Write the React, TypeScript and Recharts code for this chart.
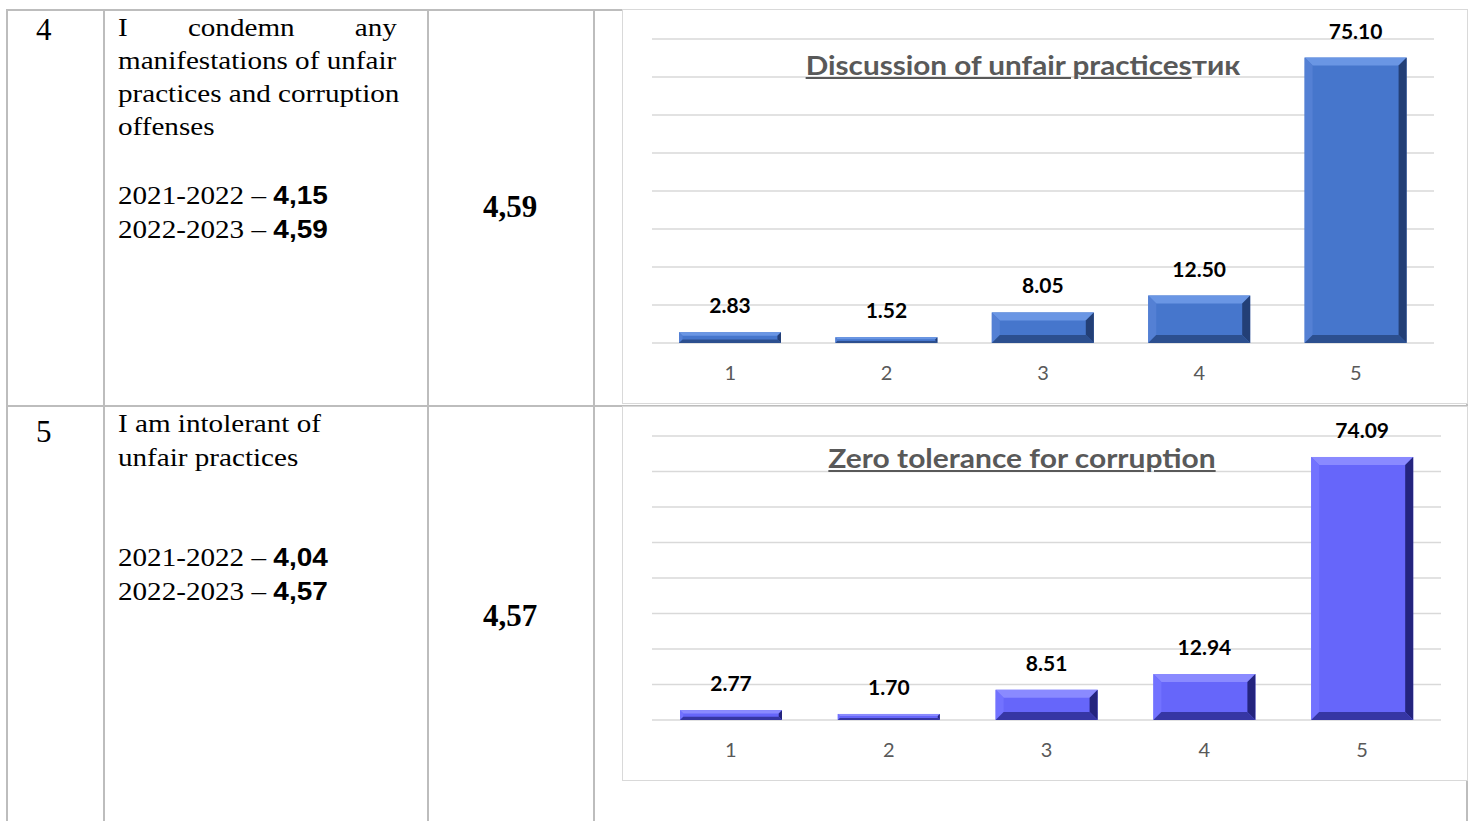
import React from 'react';
import { BarChart, Bar, XAxis, YAxis, CartesianGrid, LabelList } from 'recharts';

// answer options 1..5
const categories = ['1', '2', '3', '4', '5'];
// % of respondents per option
const discussionValues = [2.83, 1.52, 8.05, 12.5, 75.1];
const toleranceValues = [2.77, 1.7, 8.51, 12.94, 74.09];
const yTicks = [0, 10, 20, 30, 40, 50, 60, 70, 80];

const SERIF = '"Liberation Serif", "Times New Roman", serif';
const SANS = '"Liberation Sans", Arial, sans-serif';
const CHART_FONT = 'Lato, "Noto Sans", sans-serif';
const LINE = '#bdbdbd';

type Palette = { base: string; top: string; left: string; right: string; bottom: string };

const bluePalette: Palette = { base: '#4676cc', top: '#6a96e4', left: '#5480d4', right: '#233f76', bottom: '#2c4f8f' };
const violetPalette: Palette = { base: '#6666fa', top: '#8a8aff', left: '#7272ff', right: '#24247e', bottom: '#3636a4' };

function bevelShape(p: Palette) {
  return (props: any) => {
    const { x, y, width: w, height: h } = props;
    if (!w || !h || h <= 0) return <g />;
    const b = Math.min(8, h / 3, w / 2);
    return (
      <g>
        <rect x={x} y={y} width={w} height={h} fill={p.base} />
        <polygon points={`${x},${y} ${x + w},${y} ${x + w - b},${y + b} ${x + b},${y + b}`} fill={p.top} />
        <polygon points={`${x},${y} ${x + b},${y + b} ${x + b},${y + h - b} ${x},${y + h}`} fill={p.left} />
        <polygon points={`${x + w},${y} ${x + w},${y + h} ${x + w - b},${y + h - b} ${x + w - b},${y + b}`} fill={p.right} />
        <polygon points={`${x},${y + h} ${x + w},${y + h} ${x + w - b},${y + h - b} ${x + b},${y + h - b}`} fill={p.bottom} />
      </g>
    );
  };
}

function SurveyChart({ values, palette, width, height, right }: { values: number[]; palette: Palette; width: number; height: number; right: number }) {
  const data = categories.map((c, i) => ({ name: c, value: values[i] }));
  return (
    <BarChart width={width} height={height} data={data} margin={{ top: 29, right, left: 29, bottom: 22 }}>
      <CartesianGrid vertical={false} stroke="#d9d9d9" strokeWidth={1.5} />
      <XAxis dataKey="name" axisLine={false} tickLine={false} height={40} tickMargin={17}
        tick={{ fill: '#595959', fontSize: 20, fontFamily: CHART_FONT }} />
      <YAxis hide domain={[0, 80]} ticks={yTicks} width={0} />
      <Bar dataKey="value" barSize={102} isAnimationActive={false} shape={bevelShape(palette)}>
        <LabelList dataKey="value" position="top" offset={19}
          formatter={(v: any) => Number(v).toFixed(2)}
          style={{ fill: '#000', fontSize: 21, fontWeight: 700, fontFamily: CHART_FONT }} />
      </Bar>
    </BarChart>
  );
}

// the source page is a bit stretched sideways, so the serif text is widened to match
function Txt({ x, y, w, size, children, style, sx = 1.12 }: any) {
  return (
    <div style={{ position: 'absolute', left: x, top: y, width: w, fontFamily: SERIF, fontSize: size, lineHeight: '34px', color: '#000', whiteSpace: 'nowrap', transform: `scaleX(${sx})`, transformOrigin: '0 0', ...style }}>
      {children}
    </div>
  );
}

const B = ({ children }: any) => <b style={{ fontFamily: SANS, fontSize: 25 }}>{children}</b>;

export default function App() {
  return (
    <div style={{ position: 'absolute', left: 0, top: 0, width: 1470, height: 821, overflow: 'hidden', background: '#fff' }}>
      {/* table grid */}
      {[6, 103, 427, 593, 1466].map((x) => (
        <div key={x} style={{ position: 'absolute', left: x, top: 9, width: 2, height: 812, background: LINE }} />
      ))}
      {[9, 405].map((y) => (
        <div key={y} style={{ position: 'absolute', left: 6, top: y, width: 1462, height: 2, background: LINE }} />
      ))}

      {/* row 4 */}
      <Txt x={36} y={13} size={31} sx={1}>4</Txt>
      <Txt x={118} y={11} w={249} size={26} style={{ textAlignLast: 'justify', textAlign: 'justify' }}>I condemn any</Txt>
      <Txt x={118} y={44} size={26}>manifestations of unfair</Txt>
      <Txt x={118} y={77} size={26}>practices and corruption</Txt>
      <Txt x={118} y={110} size={26}>offenses</Txt>
      <Txt x={118} y={178} size={26}>2021-2022 – <B>4,15</B></Txt>
      <Txt x={118} y={212} size={26}>2022-2023 – <B>4,59</B></Txt>
      <Txt x={427} y={190} w={166} size={31} sx={1} style={{ textAlign: 'center', fontWeight: 700 }}>4,59</Txt>

      {/* row 5 */}
      <Txt x={36} y={415} size={31} sx={1}>5</Txt>
      <Txt x={118} y={407} size={26}>I am intolerant of</Txt>
      <Txt x={118} y={441} size={26}>unfair practices</Txt>
      <Txt x={118} y={540} size={26}>2021-2022 – <B>4,04</B></Txt>
      <Txt x={118} y={574} size={26}>2022-2023 – <B>4,57</B></Txt>
      <Txt x={427} y={599} w={166} size={31} sx={1} style={{ textAlign: 'center', fontWeight: 700 }}>4,57</Txt>

      {/* chart 1 */}
      <div style={{ position: 'absolute', left: 622, top: 9, width: 846, height: 395, background: '#fff', border: '1px solid #d9d9d9', boxSizing: 'border-box' }}>
        <SurveyChart values={discussionValues} palette={bluePalette} width={846} height={395} right={35} />
        <div style={{ position: 'absolute', left: 0, top: 38, width: 800, textAlign: 'center', fontFamily: CHART_FONT, fontWeight: 700, fontSize: 27, color: '#595959', whiteSpace: 'nowrap', transform: 'scaleX(1.1)', transformOrigin: '400px 0' }}>
          <span style={{ textDecoration: 'underline' }}>Discussion of unfair practices</span>тик
        </div>
      </div>

      {/* chart 2 */}
      <div style={{ position: 'absolute', left: 622, top: 406, width: 846, height: 375, background: '#fff', border: '1px solid #d9d9d9', boxSizing: 'border-box' }}>
        <SurveyChart values={toleranceValues} palette={violetPalette} width={846} height={375} right={28} />
        <div style={{ position: 'absolute', left: 0, top: 34, width: 798, textAlign: 'center', fontFamily: CHART_FONT, fontWeight: 700, fontSize: 27, color: '#595959', whiteSpace: 'nowrap', transform: 'scaleX(1.11)', transformOrigin: '399px 0' }}>
          <span style={{ textDecoration: 'underline' }}>Zero tolerance for corruption</span>
        </div>
      </div>
    </div>
  );
}
